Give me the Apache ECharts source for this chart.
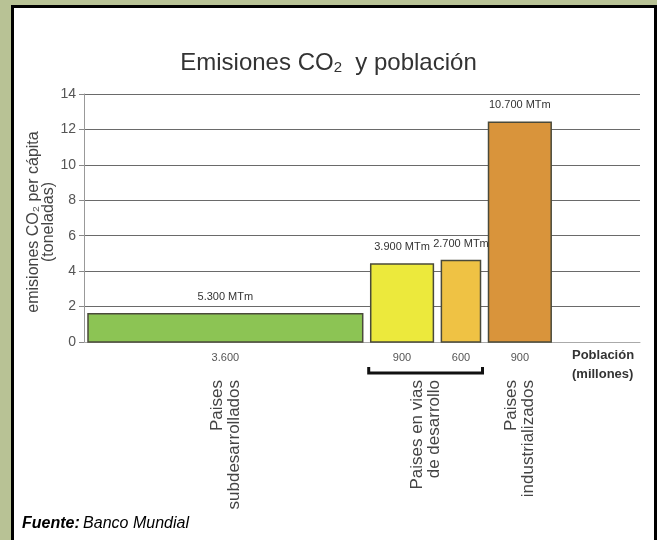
<!DOCTYPE html>
<html>
<head>
<meta charset="utf-8">
<script src="https://cdn.jsdelivr.net/npm/echarts@6/dist/echarts.min.js"></script>
<style>
html,body{margin:0;padding:0;background:#b8c295;}
#chart{width:657px;height:540px;}
</style>
</head>
<body>
<div id="chart"></div>
<script>
// ---- data ----
const population = [3600, 900, 600, 900];            // millones
const populationLabels = ['3.600', '900', '600', '900'];
const emissionsPerCapita = [1.6, 4.4, 4.6, 12.4];     // toneladas
const totalLabels = ['5.300 MTm', '3.900 MTm', '2.700 MTm', '10.700 MTm'];
const barColors = ['#8cc454', '#ece93c', '#efc244', '#d9943b'];
const groupNames = ['Paises\nsubdesarrollados', 'Paises en vias\nde desarrollo', 'Paises\nindustrializados'];
const groupFirstBar = [0, 1, 3];
const groupLastBar = [0, 2, 3];
const yTicks = [0, 2, 4, 6, 8, 10, 12, 14];
const yAxisTitle = 'emisiones CO₂ per cápita\n(toneladas)';

// cumulative extents along population axis
const starts = [];
let acc = 0;
population.forEach(p => { starts.push(acc); acc += p; });
const barData = population.map((p, i) => [starts[i], starts[i] + p, emissionsPerCapita[i], i]);
const groupData = groupNames.map((n, g) => [starts[groupFirstBar[g]], starts[groupLastBar[g]] + population[groupLastBar[g]], g]);

const narrow = "'Liberation Sans Narrow', 'Liberation Sans', Arial, sans-serif";
const sans = "'Liberation Sans', Arial, sans-serif";
const GAP = 4;

const chart = echarts.init(document.getElementById('chart'));
chart.setOption({
  backgroundColor: '#b8c295',
  animation: false,
  graphic: [
    { type: 'rect', z: -10, shape: { x: 12.5, y: 6.5, width: 643, height: 545 },
      style: { fill: '#ffffff', stroke: '#000000', lineWidth: 3 } },
    { type: 'text', x: 41, y: 222, rotation: Math.PI / 2,
      style: { text: yAxisTitle, fontFamily: sans, fontSize: 16, fill: '#444', lineHeight: 15,
        align: 'center', verticalAlign: 'middle' } },
    { type: 'text', left: 22, top: 516,
      style: { text: '{b|Fuente:} {i|Banco Mundial}', rich: {
        b: { fontFamily: sans, fontSize: 16, fontWeight: 'bold', fontStyle: 'italic', fill: '#000' },
        i: { fontFamily: sans, fontSize: 16, fontStyle: 'italic', fill: '#000' } } } },
    { type: 'text', left: 572, top: 346,
      style: { text: 'Población\n(millones)', fontFamily: sans, fontSize: 13, fontWeight: 'bold',
        fill: '#333', lineHeight: 19, align: 'center' } }
  ],
  title: {
    text: '{a|Emisiones CO}{s|2}{a|  y población}',
    left: 'center', top: 44,
    textStyle: { fontWeight: 'normal', rich: {
      a: { fontFamily: sans, fontSize: 24, fontWeight: 'normal', color: '#333', lineHeight: 28 },
      s: { fontFamily: sans, fontSize: 15, fontWeight: 'normal', color: '#333', padding: [10, 0, 0, 0], lineHeight: 28 }
    } }
  },
  grid: { left: 84, right: 17, top: 94, bottom: 198, containLabel: false },
  xAxis: {
    type: 'value', min: 0, max: 7080,
    axisLine: { show: true, lineStyle: { color: '#aaaaaa', width: 1 } },
    axisTick: { show: false }, axisLabel: { show: false }, splitLine: { show: false }
  },
  yAxis: {
    type: 'value', min: 0, max: 14, interval: 2,
    axisLine: { show: true, lineStyle: { color: '#999999' } },
    axisTick: { show: true, length: 5, lineStyle: { color: '#888' } },
    axisLabel: { fontFamily: narrow, fontSize: 14, color: '#555', margin: 8,
      formatter: v => yTicks.indexOf(v) >= 0 ? String(v) : '' },
    splitLine: { show: true, lineStyle: { color: '#6a6a6a', width: 1 } }
  },
  series: [
    {
      type: 'custom', z: 5, clip: false,
      data: barData,
      renderItem: function (params, api) {
        const i = api.value(3);
        const p0 = api.coord([api.value(0), api.value(2)]);
        const p1 = api.coord([api.value(1), 0]);
        const x0 = p0[0] + GAP, x1 = p1[0] - GAP;
        const cx = (x0 + x1) / 2;
        return {
          type: 'group', children: [
            { type: 'rect', shape: { x: x0, y: p0[1], width: x1 - x0, height: p1[1] - p0[1] },
              style: { fill: barColors[i], stroke: '#4a4a3a', lineWidth: 1.5 } },
            { type: 'text', x: cx, y: p0[1] - 17,
              style: { text: totalLabels[i], fontFamily: narrow, fontSize: 11, fill: '#333',
                align: 'center', verticalAlign: 'middle' } },
            { type: 'text', x: cx, y: p1[1] + 16,
              style: { text: populationLabels[i], fontFamily: narrow, fontSize: 11, fill: '#555',
                align: 'center', verticalAlign: 'middle' } }
          ]
        };
      }
    },
    {
      type: 'custom', z: 5, clip: false,
      data: groupData,
      renderItem: function (params, api) {
        const g = api.value(2);
        const a = api.coord([api.value(0), 0]);
        const b = api.coord([api.value(1), 0]);
        const cx = (a[0] + b[0]) / 2;
        const children = [
          { type: 'text', x: cx, y: a[1] + 38, rotation: Math.PI / 2,
            style: { text: groupNames[g], fontFamily: sans, fontSize: 17, fill: '#444',
              lineHeight: 17, align: 'right', verticalAlign: 'middle' } }
        ];
        if (groupLastBar[g] > groupFirstBar[g]) {
          const bx0 = a[0] + 2, bx1 = b[0] - 2, by = a[1] + 31;
          children.push({ type: 'polyline',
            shape: { points: [[bx0, by - 6], [bx0, by], [bx1, by], [bx1, by - 6]] },
            style: { stroke: '#111', lineWidth: 3, fill: null } });
        }
        return { type: 'group', children: children };
      }
    }
  ]
});
</script>
</body>
</html>
